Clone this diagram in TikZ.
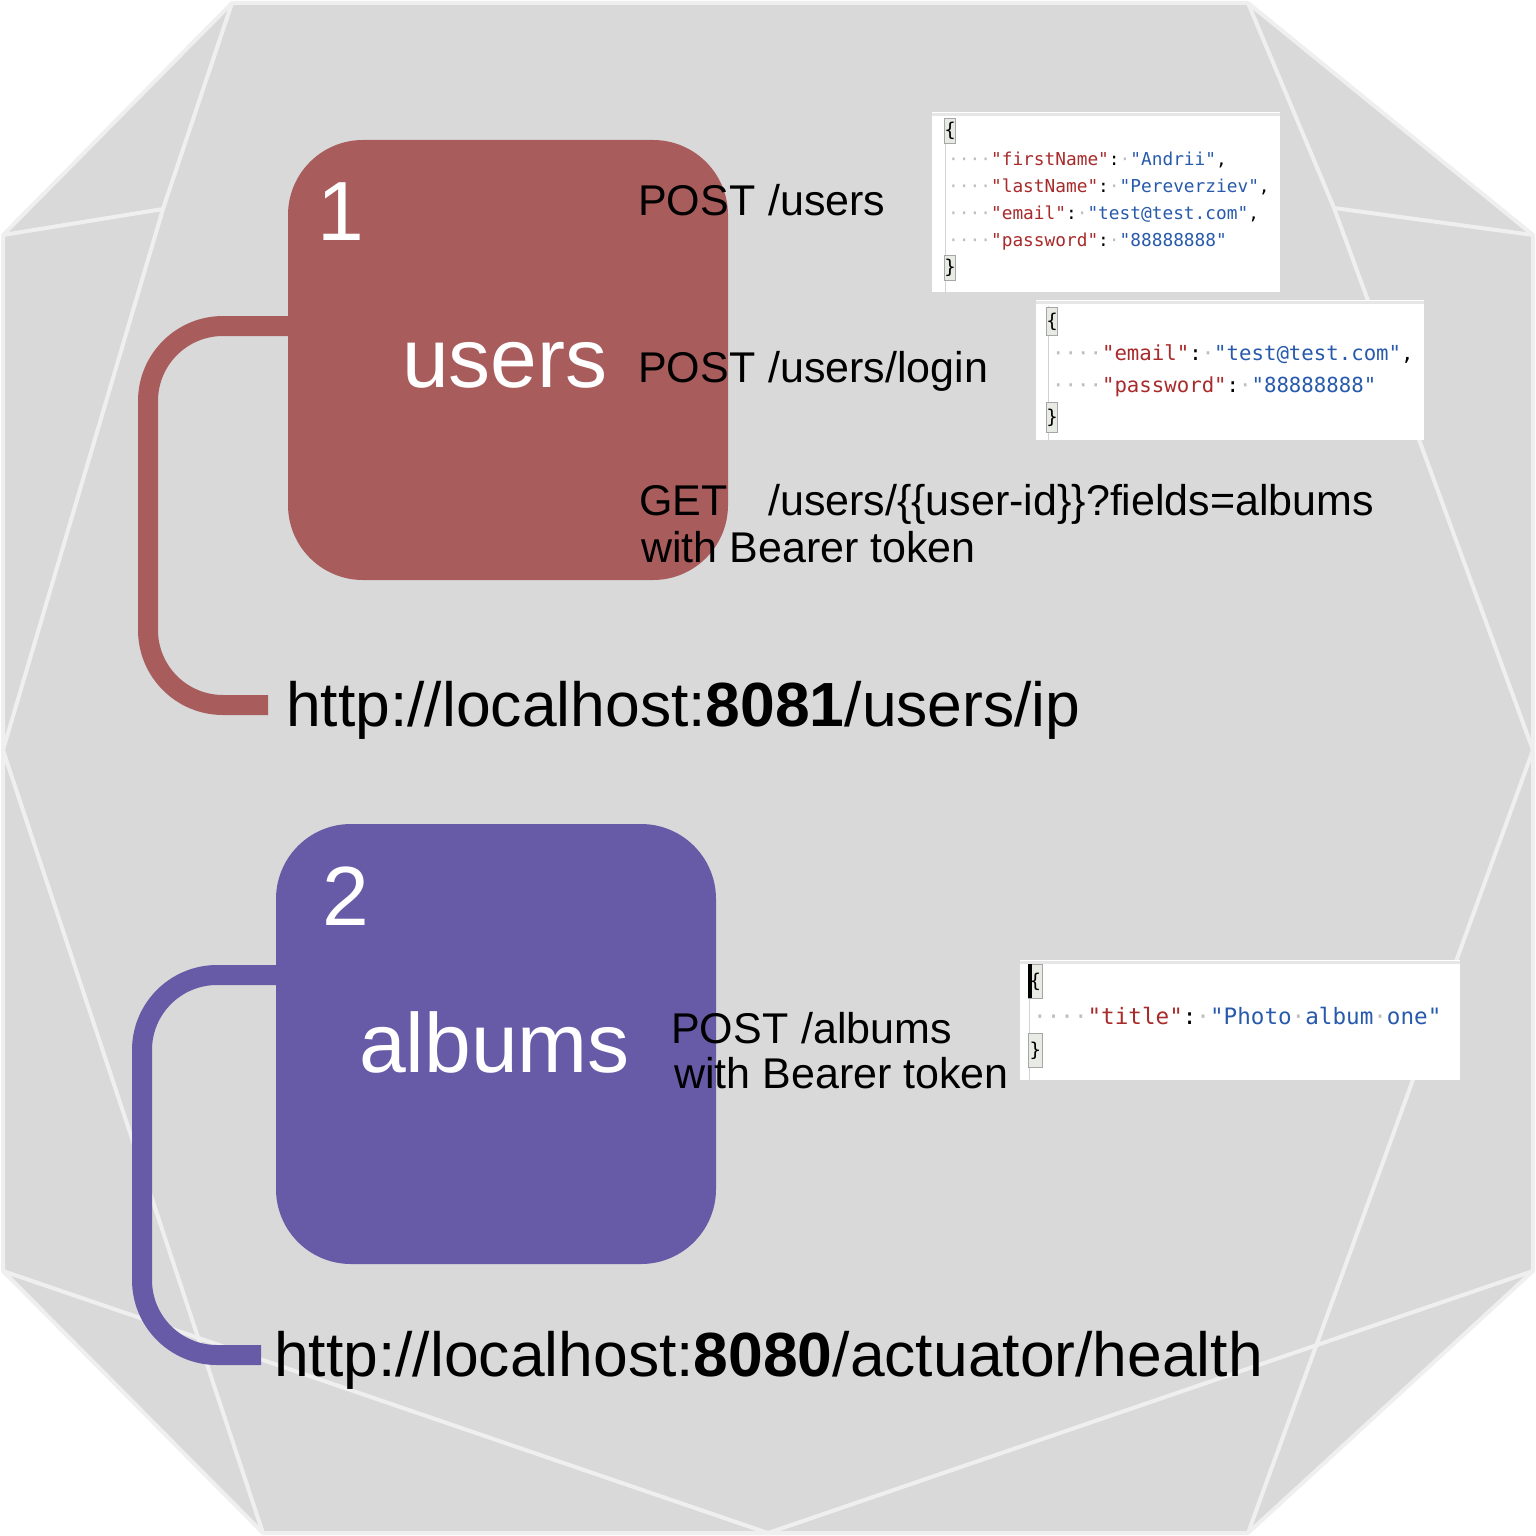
\documentclass[tikz,border=0pt]{standalone}
\usepackage{fontspec}
\setmainfont{Liberation Sans}
\setmonofont{DejaVu Sans Mono}

\definecolor{bgfill}{RGB}{217,217,217}
\definecolor{bgline}{RGB}{239,239,239}
\definecolor{usercol}{RGB}{168,92,92}
\definecolor{albumcol}{RGB}{103,91,168}
\definecolor{jsonkey}{RGB}{168,42,42}
\definecolor{jsonval}{RGB}{40,90,172}
\definecolor{jsondot}{RGB}{190,190,190}
\definecolor{jsontop}{RGB}{230,230,230}
\definecolor{bracefill}{RGB}{232,235,228}

\newcommand\titlefont{\fontsize{84}{92}\selectfont}
\newcommand\methodfont{\fontsize{43}{48}\selectfont}
\newcommand\urlfont{\fontsize{62.4}{70}\selectfont}
\newcommand\jdot{\textcolor{jsondot}{·}}
\newcommand\jind{\jdot\jdot\jdot\jdot}
\newcommand\jkey[1]{\textcolor{jsonkey}{"#1"}}
\newcommand\jval[1]{\textcolor{jsonval}{"#1"}}

\tikzset{
    facet/.style={bgline, line width=4pt},
    svcbox/.style={minimum width=440pt, minimum height=440pt, rounded corners=75pt, inner sep=0pt},
    boxlabel/.style={white, anchor=base west, inner sep=0pt, font=\titlefont},
    method/.style={black, anchor=base west, inner sep=0pt, font=\methodfont},
    urltext/.style={black, anchor=base west, inner sep=0pt, font=\urlfont},
    link/.style={line width=20pt, rounded corners=75pt},
    jsonbox/.style={fill=white, inner sep=0pt},
    jsonline/.style={anchor=base west, inner sep=0pt},
    brace/.style={fill=bracefill, draw=gray!70, line width=0.8pt, inner sep=0pt, anchor=north west, font=\ttfamily\fontsize{19}{19}\selectfont},
    gutter/.style={gray!35, line width=1pt},
}

\begin{document}
\begin{tikzpicture}[x=1pt,y=-1pt]
    % PAGE
    \useasboundingbox (0,0) rectangle (1536,1536);
    \fill[white] (0,0) rectangle (1536,1536);

    % BACKGROUND SOLID
    \filldraw[fill=bgfill, draw=bgline, line width=4pt, line join=round]
        (232,3) -- (1248,3) -- (1533,235) -- (1533,1271) -- (1248,1533) -- (263,1533) -- (3,1271) -- (3,235) -- cycle;
    \draw[facet] (232,3) -- (163,209) -- (3,750) -- (263,1533);
    \draw[facet] (3,235) -- (163,209);
    \draw[facet] (1248,3) -- (1334,208) -- (1533,750) -- (1248,1533);
    \draw[facet] (1533,235) -- (1334,208);
    \draw[facet] (3,1271) -- (768,1533) -- (1533,1271);

    % SERVICE BOXES
    \node[svcbox, fill=usercol] (users) at (508,360) {};
    \node[svcbox, fill=albumcol] (albums) at (496,1044) {};
    \node[boxlabel] (usersnum) at (317,240) {1};
    \node[boxlabel] (usersname) at (402,387) {users};
    \node[boxlabel] (albumsnum) at (322,925) {2};
    \node[boxlabel] (albumsname) at (359,1072) {albums};

    % HEALTH URLS
    \coordinate (uend) at (268,705);
    \coordinate (aend) at (261,1355);
    \draw[link, usercol] ([yshift=34pt]users.west) -| (148,705) -- (uend);
    \draw[link, albumcol] ([yshift=69pt]albums.west) -| (142,1355) -- (aend);
    \node[urltext] (uurl) at (286,726) {http://localhost:\textbf{8081}/users/ip};
    \node[urltext] (aurl) at (274,1376) {http://localhost:\textbf{8080}/actuator/health};

    % ENDPOINTS
    \node[method] (m1) at (638,215) {POST};
    \node[method] (p1) at (768,215) {/users};
    \node[method] (m2) at (638,382) {POST};
    \node[method] (p2) at (768,382) {/users/login};
    \node[method] (m3) at (639,515) {GET};
    \node[method] (p3) at (768,515) {/users/\{\{user-id\}\}?fields=albums};
    \node[method] (t3) at (641,562) {with Bearer token};
    \node[method] (m4) at (671,1043) {POST};
    \node[method] (p4) at (801,1043) {/albums};
    \node[method] (t4) at (674,1088) {with Bearer token};

    % JSON BODIES
    \node[jsonbox, minimum width=348pt, minimum height=180pt] (json1) at (1106,202) {};
    \node[jsonbox, minimum width=388pt, minimum height=140pt] (json2) at (1230,370) {};
    \node[jsonbox, minimum width=440pt, minimum height=120pt] (json3) at (1240,1020) {};
    \foreach \j in {json1,json2,json3} {
    \draw[jsontop, line width=3pt] ([yshift=-3pt]\j.north west) -- ([yshift=-3pt]\j.north east);
    }
    \draw[gutter] (945,118) -- (945,292);
    \draw[gutter] (1048,306) -- (1048,440);
    \draw[gutter] (1029,964) -- (1029,1080);

    \node[brace, minimum width=9pt, minimum height=25pt] (ob1) at (944,118) {\{};
    \node[brace, minimum width=9pt, minimum height=25pt] (cb1) at (944,255) {\}};
    \node[brace, minimum width=10pt, minimum height=28pt] (ob2) at (1046,307) {\{};
    \node[brace, minimum width=10pt, minimum height=30pt] (cb2) at (1046,402) {\}};
    \node[brace, minimum width=14pt, minimum height=34pt] (ob3) at (1028,964) {\{};
    \node[brace, minimum width=14pt, minimum height=34pt] (cb3) at (1028,1033) {\}};
    \fill[black] (1028,964) rectangle (1031.5,998);

    \foreach \k/\v/\c [count=\i from 0] in {firstName/Andrii/{,}, lastName/Pereverziev/{,}, email/test@test.com/{,}, password/88888888/{}} {
    \node[jsonline, font=\ttfamily\fontsize{17.8}{20}\selectfont] at (948,165+27.3*\i) {\jind\jkey{\k}:\jdot\jval{\v}\c};
    }
    \foreach \k/\v/\c [count=\i from 0] in {email/test@test.com/{,}, password/88888888/{}} {
    \node[jsonline, font=\ttfamily\fontsize{20.7}{24}\selectfont] at (1052,360+32*\i) {\jind\jkey{\k}:\jdot\jval{\v}\c};
    }
    \node[jsonline, font=\ttfamily\fontsize{22.6}{26}\selectfont] (title) at (1033,1024) {\jind\jkey{title}:\jdot\jval{Photo\jdot album\jdot one}};

\end{tikzpicture}
\end{document}
